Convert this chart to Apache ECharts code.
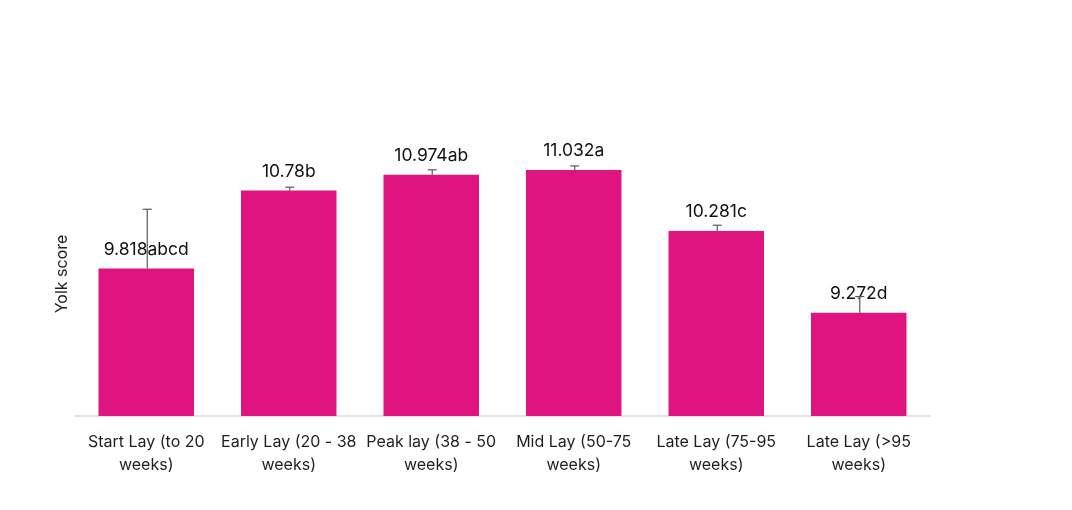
<!DOCTYPE html>
<html lang="en">
<head>
    <meta charset="UTF-8">
    <title>Yolk score</title>
    <script src="https://cdn.jsdelivr.net/npm/echarts@6/dist/echarts.min.js"></script>
    <style>
        html, body { margin: 0; padding: 0; background: #fff; }
        #chart { width: 1072px; height: 510px; }
    </style>
</head>
<body>
    <div id="chart"></div>
    <script>
        // values
        const stages = ['Start Lay (to 20 weeks)', 'Early Lay (20 - 38 weeks)', 'Peak lay (38 - 50 weeks)',
            'Mid Lay (50-75 weeks)', 'Late Lay (75-95 weeks)', 'Late Lay (>95 weeks)'];
        const yolkScore = [9.818, 10.78, 10.974, 11.032, 10.281, 9.272];
        const letters = ['abcd', 'b', 'ab', 'a', 'c', 'd'];
        const errPlus = [0.73, 0.04, 0.06, 0.05, 0.07, 0.2];

        const pink = '#e0147f';
        const font = 'Inter, Liberation Sans, Arial, sans-serif';

        let chart = echarts.init(document.getElementById('chart'));
        let option = {
            animation: false,
            grid: { left: 75, right: 142, top: 132, bottom: 94 },
            xAxis: {
                type: 'category',
                data: stages,
                axisLine: { lineStyle: { color: '#d9d9d9', width: 1.5 } },
                axisTick: { show: false },
                axisLabel: {
                    color: '#1f1f1f',
                    fontFamily: font,
                    fontSize: 16,
                    lineHeight: 23,
                    margin: 15,
                    interval: 0,
                    formatter: name => name.replace(' weeks', '\nweeks')
                }
            },
            yAxis: {
                type: 'value',
                min: 8,
                max: 11.5,
                interval: 0.5,
                name: 'Yolk score',
                nameLocation: 'middle',
                nameGap: 5,
                nameTextStyle: { color: '#1f1f1f', fontFamily: font, fontSize: 16 },
                axisLine: { show: false },
                axisTick: { show: false },
                axisLabel: { show: false },
                splitLine: { show: false }
            },
            series: [{
                type: 'bar',
                data: yolkScore,
                barWidth: '67%',
                itemStyle: { color: pink },
                z: 2,
                label: {
                    show: true,
                    position: 'top',
                    distance: 10,
                    color: '#111',
                    fontFamily: font,
                    fontSize: 17.5,
                    formatter: p => p.value + letters[p.dataIndex]
                }
            }, {
                type: 'custom',
                z: 5,
                data: yolkScore.map((v, i) => [i, v, v + errPlus[i]]),
                renderItem: function (params, api) {
                    let base = api.coord([api.value(0), api.value(1)]);
                    let tip = api.coord([api.value(0), api.value(2)]);
                    let x = base[0] + 1;
                    let style = { stroke: '#595959', lineWidth: 1.2 };
                    return {
                        type: 'group',
                        children: [{
                            type: 'line',
                            shape: { x1: x, y1: base[1], x2: x, y2: tip[1] },
                            style: style
                        }, {
                            type: 'line',
                            shape: { x1: x - 4.5, y1: tip[1], x2: x + 4.5, y2: tip[1] },
                            style: style
                        }]
                    };
                }
            }]
        };
        chart.setOption(option);
    </script>
</body>
</html>
